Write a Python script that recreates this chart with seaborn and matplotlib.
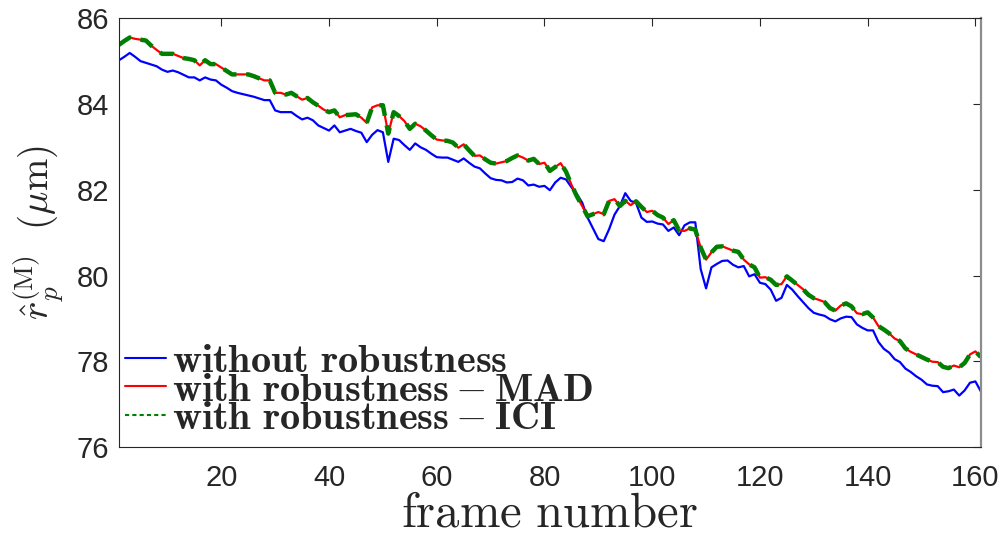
import numpy as np
import pandas as pd
import matplotlib
matplotlib.use('Agg')
import matplotlib.pyplot as plt
import seaborn as sns

# ============================================================================
# DATA
# ============================================================================

frames = list(range(1, 162))

r_without = [
    85.02, 85.10, 85.19, 85.10, 85.00, 84.96, 84.92, 84.88, 84.80, 84.75,
    84.78, 84.74, 84.68, 84.62, 84.62, 84.55, 84.62, 84.57, 84.55, 84.45,
    84.38, 84.30, 84.26, 84.23, 84.20, 84.17, 84.13, 84.09, 84.09, 83.85,
    83.81, 83.81, 83.81, 83.72, 83.64, 83.68, 83.62, 83.50, 83.44, 83.38,
    83.50, 83.34, 83.38, 83.42, 83.37, 83.33, 83.11, 83.28, 83.39, 83.34,
    82.65, 83.19, 83.16, 83.04, 82.93, 83.08, 82.99, 82.93, 82.84, 82.76,
    82.75, 82.75, 82.70, 82.65, 82.73, 82.63, 82.54, 82.50, 82.38, 82.27,
    82.23, 82.22, 82.17, 82.18, 82.26, 82.22, 82.10, 82.12, 82.07, 82.09,
    81.99, 82.17, 82.28, 82.24, 82.06, 81.90, 81.70, 81.35, 81.10, 80.85,
    80.80, 81.08, 81.42, 81.62, 81.92, 81.74, 81.69, 81.35, 81.25, 81.26,
    81.21, 81.19, 81.04, 81.12, 80.94, 81.17, 81.24, 81.24, 80.15, 79.70,
    80.19, 80.27, 80.34, 80.35, 80.25, 80.19, 80.22, 79.98, 80.03, 79.83,
    79.80, 79.67, 79.41, 79.48, 79.78, 79.67, 79.52, 79.38, 79.24, 79.13,
    79.09, 79.06, 78.98, 78.93, 79.00, 79.04, 79.03, 78.86, 78.78, 78.72,
    78.72, 78.45, 78.29, 78.20, 78.05, 77.98, 77.83, 77.75, 77.65, 77.57,
    77.46, 77.43, 77.42, 77.28, 77.30, 77.34, 77.20, 77.32, 77.50, 77.53,
    77.30,
]

r_mad = [
    85.38, 85.47, 85.55, 85.52, 85.50, 85.48, 85.36, 85.26, 85.17, 85.17,
    85.17, 85.12, 85.07, 85.05, 85.02, 84.90, 85.02, 84.93, 84.93, 84.85,
    84.77, 84.69, 84.69, 84.69, 84.69, 84.65, 84.60, 84.55, 84.55, 84.26,
    84.26, 84.22, 84.26, 84.18, 84.10, 84.14, 84.04, 83.96, 83.87, 83.81,
    83.85, 83.69, 83.74, 83.75, 83.76, 83.68, 83.56, 83.92, 83.97, 83.97,
    83.31, 83.81, 83.72, 83.60, 83.42, 83.54, 83.48, 83.38, 83.27, 83.17,
    83.15, 83.14, 83.10, 82.98, 83.06, 82.92, 82.79, 82.80, 82.71, 82.63,
    82.61, 82.64, 82.67, 82.74, 82.80, 82.75, 82.68, 82.72, 82.60, 82.63,
    82.44, 82.53, 82.62, 82.42, 82.12, 81.85, 81.62, 81.38, 81.43, 81.48,
    81.43, 81.74, 81.78, 81.62, 81.74, 81.64, 81.73, 81.60, 81.48, 81.51,
    81.41, 81.35, 81.20, 81.29, 81.05, 81.04, 81.10, 81.07, 80.65, 80.37,
    80.54, 80.67, 80.68, 80.63, 80.58, 80.55, 80.37, 80.26, 80.19, 79.95,
    79.96, 79.90, 79.78, 79.80, 79.98, 79.88, 79.78, 79.68, 79.55, 79.47,
    79.43, 79.38, 79.24, 79.18, 79.30, 79.35, 79.28, 79.12, 79.10, 79.14,
    79.02, 78.82, 78.74, 78.65, 78.53, 78.47, 78.30, 78.22, 78.16, 78.10,
    78.04, 77.99, 77.98, 77.87, 77.84, 77.90, 77.86, 77.96, 78.16, 78.23,
    78.10,
]

# ICI estimate lies on top of the MAD one in the picture
r_ici = r_mad

labels = [r'$\mathbf{without\ robustness}$',
          r'$\mathbf{with\ robustness - MAD}$',
          r'$\mathbf{with\ robustness - ICI}$']

x_ticks = [20, 40, 60, 80, 100, 120, 140, 160]
y_ticks = [76, 78, 80, 82, 84, 86]

# ============================================================================
# PLOT
# ============================================================================

sns.set_style('white')
plt.rcParams['font.family'] = ['Liberation Sans', 'DejaVu Sans']
plt.rcParams['mathtext.fontset'] = 'cm'

fig = plt.figure(figsize=(10.08, 5.36), dpi=100)
ax = fig.add_axes([0.118, 0.166, 0.855, 0.800])

sns.lineplot(x=frames, y=r_without, ax=ax, color='#0000FF', linewidth=1.6,
             label=labels[0])
sns.lineplot(x=frames, y=r_mad, ax=ax, color='#FF0000', linewidth=1.6,
             label=labels[1])
sns.lineplot(x=frames, y=r_ici, ax=ax, color='#008000', linewidth=3.2,
             linestyle=(0, (3.2, 2.2)), label=labels[2])

ax.set_xlim(1, 161)
ax.set_ylim(76, 86)
ax.set_xticks(x_ticks)
ax.set_yticks(y_ticks)

ax.tick_params(axis='both', direction='in', length=6, width=0.8,
               colors='#262626', labelsize=21, top=True, right=True)
ax.tick_params(axis='x', pad=12)
ax.tick_params(axis='y', pad=7)

for side, sp in ax.spines.items():
    sp.set_visible(True)
    sp.set_color('#262626')
    sp.set_linewidth(0.8)
ax.spines['right'].set_color('#8c8c8c')
ax.spines['right'].set_linewidth(1.6)

ax.set_xlabel(r'$\mathrm{frame\ number}$', fontsize=35, labelpad=0)
ax.set_ylabel(r'$\hat{r}_p^{(\mathrm{M})}\ \ (\mu\mathrm{m})$', fontsize=28)
ax.yaxis.set_label_coords(-0.062, 0.5)

leg = ax.legend(loc='lower left', bbox_to_anchor=(-0.002, 0.004), frameon=False,
                fontsize=29, handlelength=1.0, handletextpad=0.15,
                labelspacing=-0.23, borderaxespad=0.0, borderpad=0.2)
for line in leg.get_lines():
    line.set_linewidth(1.5)
leg.get_lines()[2].set_linestyle((0, (2, 1.5)))

plt.savefig('out.png', dpi=100)
